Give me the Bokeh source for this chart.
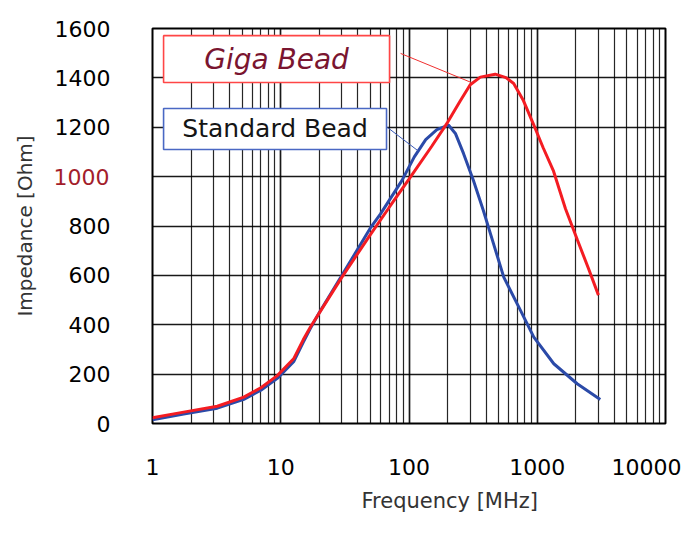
import numpy as np
from bokeh.plotting import figure
from bokeh.models import FixedTicker, BoxAnnotation, Label, Title, LinearAxis
from bokeh.embed import file_html
from bokeh.resources import INLINE

# ---- data ----
freq_giga = [1, 1.75, 3.2, 5.15, 7, 9.4, 12.6, 15, 17, 20, 30, 50, 70, 100, 150,
             200, 250, 300, 360, 470, 570, 655, 780, 935, 1110, 1340, 1660, 2050, 2500, 3000]
imp_giga = [23, 46, 70, 107, 145, 194, 262, 340, 390, 448, 593, 765, 875, 990, 1122,
            1220, 1305, 1372, 1403, 1415, 1401, 1377, 1308, 1212, 1118, 1022, 870, 745, 630, 520]

freq_std = [1, 1.75, 3.2, 5.15, 7, 9.4, 12.6, 15, 17, 20, 30, 50, 60, 88, 110, 135, 165,
            203, 230, 266, 318, 380, 432, 548, 740, 940, 1346, 2048, 3100]
imp_std = [15, 38, 62, 98, 135, 183, 250, 330, 385, 450, 600, 792, 849, 984, 1080, 1150, 1190,
           1209, 1175, 1094, 984, 863, 768, 593, 458, 350, 242, 161, 97]

x_ticks = [1, 10, 100, 1000, 10000]
x_tick_labels = ["1", "10", "100", "1000", "10000"]
y_ticks = [0, 200, 400, 600, 800, 1000, 1200, 1400, 1600]
y_tick_labels = ["0", "200", "400", "600", "800", "1000", "1200", "1400", "1600"]
highlight_tick = 1000

series_names = ["Giga Bead", "Standard Bead"]

FONT = "DejaVu Sans"

p = figure(width=681, height=523, x_axis_type="log", x_range=(1, 10000), y_range=(0, 1600),
           output_backend="svg", toolbar_location=None,
           min_border_left=152, min_border_right=16, min_border_top=28, min_border_bottom=100)
p.background_fill_color = "white"
p.border_fill_color = "white"
p.outline_line_color = "black"
p.outline_line_width = 2

# x axis: decades with log minor grid
minor = [m * d for d in x_ticks[:-1] for m in range(2, 10)]
xt = FixedTicker(ticks=x_ticks, minor_ticks=minor)
p.xaxis.ticker = xt
p.xaxis.major_label_overrides = {t: s for t, s in zip(x_ticks, x_tick_labels)}
p.xaxis.major_label_text_font = FONT
p.xaxis.major_label_text_font_size = "22px"
p.xaxis.major_label_text_color = "#000000"
p.xaxis.major_label_standoff = 35
p.xaxis.axis_line_color = None
p.xaxis.major_tick_line_color = None
p.xaxis.minor_tick_line_color = None
p.xaxis.major_tick_out = 0
p.xaxis.minor_tick_out = 0

p.xgrid.ticker = xt
p.xgrid.grid_line_color = "black"
p.xgrid.grid_line_width = 1.7
p.xgrid.grid_line_alpha = 0.9
p.xgrid.minor_grid_line_color = "black"
p.xgrid.minor_grid_line_width = 1.2
p.xgrid.minor_grid_line_alpha = 0.85

# y axis (black labels) next to the frame
yt = FixedTicker(ticks=y_ticks)
ya = p.yaxis[0]
ya.ticker = yt
ya.major_label_overrides = {t: ("" if t == highlight_tick else s) for t, s in zip(y_ticks, y_tick_labels)}
ya.major_label_text_font = FONT
ya.major_label_text_font_size = "22px"
ya.major_label_text_color = "#000000"
ya.major_label_text_baseline = "bottom"
ya.major_label_standoff = 42
ya.axis_line_color = None
ya.major_tick_line_color = None
ya.minor_tick_line_color = None
ya.major_tick_out = 0
ya.minor_tick_out = 0

# second left axis carrying the red 1000 label and the axis title
yb = LinearAxis(ticker=FixedTicker(ticks=[highlight_tick]),
                major_label_overrides={highlight_tick: y_tick_labels[y_ticks.index(highlight_tick)]},
                major_label_text_font=FONT, major_label_text_font_size="22px",
                major_label_text_color="#a31d2b", major_label_standoff=-58,
                axis_line_color=None, major_tick_line_color=None, minor_tick_line_color=None,
                major_tick_out=0, minor_tick_out=0,
                axis_label="Impedance [Ohm]", axis_label_text_font=FONT,
                axis_label_text_font_size="20px", axis_label_text_font_style="normal",
                axis_label_text_color="#333333", axis_label_standoff=14)
p.add_layout(yb, "left")

p.ygrid.ticker = yt
p.ygrid.grid_line_color = "black"
p.ygrid.grid_line_width = 1.7
p.ygrid.grid_line_alpha = 0.9

p.add_layout(Title(text="Frequency [MHz]", align="left", offset=209,
                   text_font=FONT, text_font_size="21px", text_font_style="normal",
                   text_color="#333333", standoff=18), "below")

# curves
p.line(freq_std, imp_std, line_color="#2b4aa8", line_width=3)
p.line(freq_giga, imp_giga, line_color="#f41c22", line_width=3)

# callout boxes and leaders
def on_curve(f, fx, fy):
    return float(np.interp(np.log10(f), np.log10(fx), fy))

p.segment(x0=[86], y0=[1499], x1=[313], y1=[on_curve(313, freq_giga, imp_giga)],
          line_color="#f03030", line_width=1)
p.segment(x0=[68], y0=[1199], x1=[118], y1=[on_curve(118, freq_std, imp_std)],
          line_color="#3a5ab8", line_width=1)

p.add_layout(BoxAnnotation(left=1.22, right=70.5, bottom=1381, top=1571,
                           fill_color="white", fill_alpha=1,
                           line_color="#ff4646", line_width=1.6, line_alpha=1))
p.add_layout(BoxAnnotation(left=1.22, right=66.8, bottom=1110, top=1276,
                           fill_color="white", fill_alpha=1,
                           line_color="#4a68c4", line_width=1.6, line_alpha=1))
p.add_layout(Label(x=float(np.sqrt(1.22 * 70.5)), y=(1381 + 1571) / 2, text=series_names[0],
                   text_align="center", text_baseline="middle", text_font=FONT,
                   text_font_size="28px", text_font_style="italic", text_color="#7a1530"))
p.add_layout(Label(x=float(np.sqrt(1.22 * 66.8)), y=(1110 + 1276) / 2, text=series_names[1],
                   text_align="center", text_baseline="middle", text_font=FONT,
                   text_font_size="25px", text_color="#151515"))

open("out.html", "w").write(file_html(p, INLINE))
